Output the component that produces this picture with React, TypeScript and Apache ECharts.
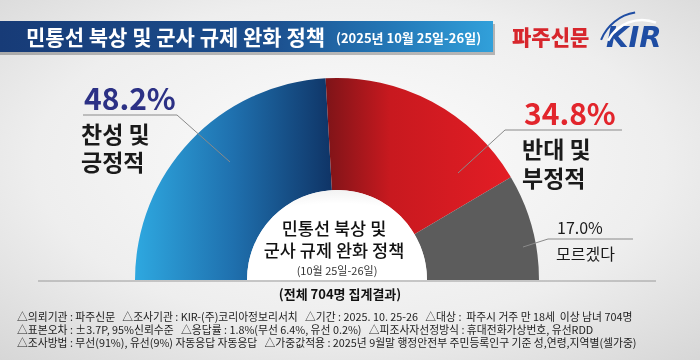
import React, { useEffect, useRef } from "react";
import * as echarts from "echarts";

const categories = ["찬성 및\n긍정적", "반대 및\n부정적", "모르겠다"];
const values = [48.2, 34.8, 17.0];
const titleText = "민통선 북상 및 군사 규제 완화 정책";
const dateText = "(2025년 10월 25일-26일)";
const centerTitle = ["민통선 북상 및", "군사 규제 완화 정책"];
const centerDate = "(10월 25일-26일)";
const totalText = "(전체 704명 집계결과)";
const footerLines = [
  "△의뢰기관 : 파주신문   △조사기관 : KIR-(주)코리아정보리서치   △기간 : 2025. 10. 25-26   △대상 :  파주시 거주 만 18세  이상 남녀 704명",
  "△표본오차 : ±3.7P, 95%신뢰수준   △응답률 : 1.8%(무선 6.4%, 유선 0.2%)   △피조사자선정방식 : 휴대전화가상번호, 유선RDD",
  "△조사방법 : 무선(91%), 유선(9%) 자동응답 자동응답   △가중값적용 : 2025년 9월말 행정안전부 주민등록인구 기준 성,연령,지역별(셀가중)",
];

const FONT = "'Noto Sans CJK KR', 'Noto Sans', sans-serif";

export default function App() {
  const ref = useRef<HTMLDivElement>(null);
  useEffect(() => {
    if (!ref.current) return;
    const chart = echarts.init(ref.current, null, { renderer: "svg" });
    const lg = (stops: [number, string][]) =>
      new echarts.graphic.LinearGradient(0, 0, 1, 0, stops.map(([offset, color]) => ({ offset, color })));
    const colors = [
      lg([[0, "#2ea8e0"], [0.5, "#1f70ae"], [1, "#0f3466"]]),
      lg([[0, "#7e1418"], [0.35, "#c8191f"], [1, "#e31d25"]]),
      "#5c5c5c",
    ];
    const pct = (v: number) => v.toFixed(1) + "%";
    const leader = (pts: number[][]) => ({
      type: "polyline",
      shape: { points: pts },
      style: { stroke: "#8a8a8a", lineWidth: 1, fill: null },
      z: 10,
    });
    const txt = (x: number, y: number, text: string, style: any) => ({
      type: "text",
      x,
      y,
      style: { text, fontFamily: FONT, textVerticalAlign: "middle", ...style },
      z: 20,
    });
    const lines = (x: number, y: number, gap: number, text: string, style: any) =>
      text.split("\n").map((t, i) => txt(x, y + i * gap, t, style));

    chart.setOption({
      animation: false,
      backgroundColor: new echarts.graphic.RadialGradient(0.5, 0.45, 0.75, [
        { offset: 0, color: "#fdfdfd" },
        { offset: 0.6, color: "#eeeeee" },
        { offset: 1, color: "#d6d6d6" },
      ]),
      series: [
        {
          type: "pie",
          center: [337, 280],
          radius: [90, 202],
          startAngle: 180,
          endAngle: 0,
          clockwise: true,
          silent: true,
          label: { show: false },
          labelLine: { show: false },
          data: values.map((v, i) => ({
            value: v,
            name: categories[i],
            itemStyle: { color: colors[i] },
          })),
        },
      ],
      graphic: [
        {
          type: "sector",
          shape: { cx: 337, cy: 280, r0: 0, r: 90, startAngle: Math.PI, endAngle: Math.PI * 2 },
          style: {
            fill: new echarts.graphic.RadialGradient(0.5, 1, 1, [
              { offset: 0, color: "#ffffff" },
              { offset: 0.85, color: "#ffffff" },
              { offset: 1, color: "#f2f2f2" },
            ]),
          },
          z: 5,
        },
        { type: "line", shape: { x1: 38, y1: 281, x2: 656, y2: 281 }, style: { stroke: "#9a9a9a", lineWidth: 1 }, z: 6 },
        { type: "rect", shape: { x: 0, y: 24, width: 495, height: 31 }, style: { fill: "rgba(0,0,0,0.25)" }, z: 1 },
        {
          type: "rect",
          shape: { x: 0, y: 21, width: 493, height: 31 },
          style: { fill: lg([[0, "#173b77"], [0.55, "#1c4f8e"], [0.8, "#2479b8"], [1, "#31a0da"]]) },
          z: 2,
        },
        txt(26, 36, titleText, { fill: "#ffffff", fontSize: 21, fontWeight: "bold" }),
        txt(336, 37, dateText, { fill: "#ffffff", fontSize: 13, fontWeight: "bold" }),
        txt(512, 36, "파주신문", { fill: "#d7262c", fontSize: 21, fontWeight: "900" }),
        txt(606, 37, "KIR", {
          fill: "#1f4da3",
          fontSize: 29,
          fontWeight: "900",
          fontStyle: "italic",
          fontFamily: "'DejaVu Sans', sans-serif",
        }),
        {
          type: "arc",
          shape: { cx: 642, cy: 58, r: 38, startAngle: Math.PI * 1.15, endAngle: Math.PI * 1.62 },
          style: { stroke: "#ffffff", lineWidth: 2.5, fill: null },
          z: 21,
        },
        {
          type: "arc",
          shape: { cx: 642, cy: 56, r: 44, startAngle: Math.PI * 1.12, endAngle: Math.PI * 1.45 },
          style: { stroke: "#1f4da3", lineWidth: 2, fill: null },
          z: 21,
        },
        leader([[83, 115], [177, 115], [230, 162]]),
        txt(84, 97, pct(values[0]), { fill: "#2c3185", fontSize: 30, fontWeight: "bold" }),
        ...lines(81, 133, 28, categories[0], { fill: "#1a1a1a", fontSize: 23, fontWeight: "bold" }),
        leader([[458, 173], [505, 130], [622, 130]]),
        txt(524, 112, pct(values[1]), { fill: "#e2252c", fontSize: 30, fontWeight: "bold" }),
        ...lines(522, 148, 29, categories[1], { fill: "#1a1a1a", fontSize: 23, fontWeight: "bold" }),
        leader([[523, 247], [548, 239], [633, 239]]),
        txt(557, 227, pct(values[2]), { fill: "#1a1a1a", fontSize: 16 }),
        txt(556, 253, categories[2], { fill: "#1a1a1a", fontSize: 16 }),
        ...centerTitle.map((t, i) => ({
          type: "text",
          x: 334,
          y: 227 + i * 22,
          style: {
            text: t,
            fontFamily: FONT,
            fontSize: 17.5,
            fontWeight: "500",
            fill: "#111111",
            textAlign: "center",
            textVerticalAlign: "middle",
          },
          z: 20,
        })),
        {
          type: "text",
          x: 337,
          y: 270,
          style: { text: centerDate, fontFamily: FONT, fontSize: 11, fill: "#333333", textAlign: "center", textVerticalAlign: "middle" },
          z: 20,
        },
        {
          type: "text",
          x: 340,
          y: 293,
          style: { text: totalText, fontFamily: FONT, fontSize: 13, fontWeight: "bold", fill: "#111111", textAlign: "center", textVerticalAlign: "middle" },
          z: 20,
        },
        ...footerLines.map((l, i) =>
          txt(17, 316 + i * 13.2, l, { fill: "#222222", fontSize: 10.8, lineHeight: 12 })
        ),
      ],
    });
    return () => chart.dispose();
  }, []);
  return (
    <div
      ref={ref}
      style={{ position: "fixed", left: 0, top: 0, width: 700, height: 360 }}
    />
  );
}
